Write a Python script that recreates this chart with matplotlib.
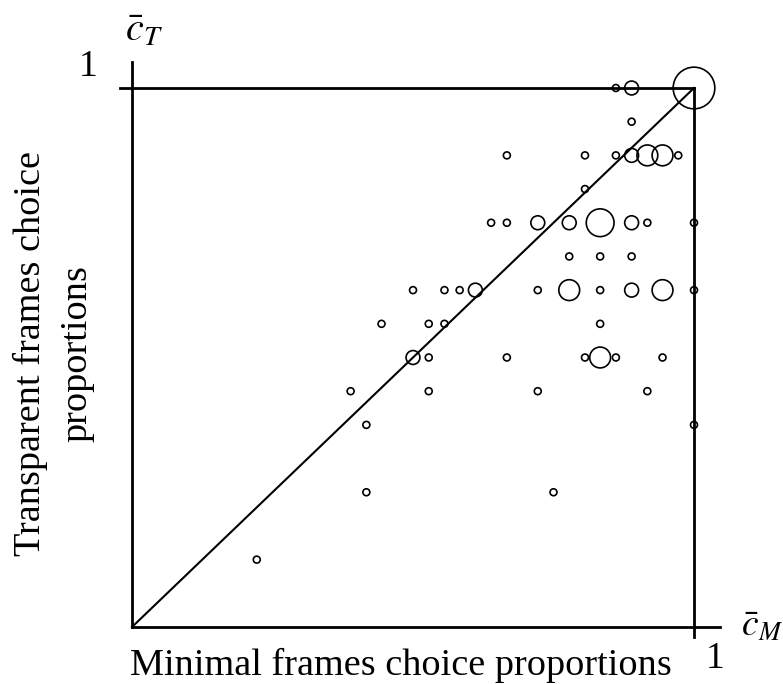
#!/usr/bin/env python3
"""Bubble plot: transparent vs minimal frames choice proportions."""
import matplotlib
matplotlib.use("Agg")
import matplotlib.pyplot as plt

# choice proportions (minimal = x, transparent = y) and number of subjects
c_min = [0.861, 0.889, 1.000,
         0.889,
         0.667, 0.806, 0.861, 0.889, 0.917, 0.944, 0.972,
         0.806,
         0.639, 0.667, 0.722, 0.778, 0.833, 0.889, 0.917, 1.000,
         0.778, 0.833, 0.889,
         0.500, 0.556, 0.583, 0.611, 0.722, 0.778, 0.833, 0.889, 0.944, 1.000,
         0.444, 0.528, 0.556, 0.833,
         0.500, 0.528, 0.667, 0.806, 0.833, 0.861, 0.944,
         0.389, 0.528, 0.722, 0.917,
         0.417, 1.000,
         0.417, 0.750,
         0.222]
c_tr = [1.0, 1.0, 1.0,
        0.9375,
        0.875, 0.875, 0.875, 0.875, 0.875, 0.875, 0.875,
        0.8125,
        0.75, 0.75, 0.75, 0.75, 0.75, 0.75, 0.75, 0.75,
        0.6875, 0.6875, 0.6875,
        0.625, 0.625, 0.625, 0.625, 0.625, 0.625, 0.625, 0.625, 0.625, 0.625,
        0.5625, 0.5625, 0.5625, 0.5625,
        0.5, 0.5, 0.5, 0.5, 0.5, 0.5, 0.5,
        0.4375, 0.4375, 0.4375, 0.4375,
        0.375, 0.375,
        0.25, 0.25,
        0.125]
n_subj = [1, 2, 6,
          1,
          1, 1, 1, 2, 3, 3, 1,
          1,
          1, 1, 2, 2, 4, 2, 1, 1,
          1, 1, 1,
          1, 1, 1, 2, 1, 3, 1, 2, 3, 1,
          1, 1, 1, 1,
          2, 1, 1, 1, 3, 1, 1,
          1, 1, 1, 1,
          1, 1,
          1, 1,
          1]

plt.rcParams["font.family"] = ["Liberation Serif", "DejaVu Serif"]
plt.rcParams["mathtext.fontset"] = "stix"

fig = plt.figure(figsize=(7.83, 6.84), dpi=100)
ax = fig.add_axes([132 / 783, 57 / 684, 562 / 783, 539 / 684])
ax.set_xlim(0, 1)
ax.set_ylim(0, 1)
ax.axis("off")

# axes and frame lines
ax.plot([0, 1.046], [0, 0], color="black", lw=2, clip_on=False)
ax.plot([0, 0], [0, 1.048], color="black", lw=2, clip_on=False)
ax.plot([-0.021, 1], [1, 1], color="black", lw=2, clip_on=False)
ax.plot([1, 1], [1, -0.019], color="black", lw=2, clip_on=False)
ax.plot([0, 1], [0, 1], color="black", lw=1.5, clip_on=False)

sizes = [(5.0 * n) ** 2 for n in n_subj]
ax.scatter(c_min, c_tr, s=sizes, facecolors="none", edgecolors="black",
           linewidths=1.2, clip_on=False, zorder=3)

ax.text(-0.078, 1.039, "1", fontsize=27, ha="center", va="center")
ax.text(1.037, -0.058, "1", fontsize=27, ha="center", va="center")
ax.text(-0.012, 1.105, r"$\bar{c}_T$", fontsize=29, ha="left", va="center")
ax.text(1.083, 0.0, r"$\bar{c}_M$", fontsize=27, ha="left", va="center")
ax.text(0.479, -0.089, "Minimal frames choice proportions", fontsize=27.5,
        ha="center", va="baseline")
ax.text(-0.139, 0.508, "Transparent frames choice\nproportions", fontsize=27.5,
        ha="center", va="center", rotation=90, multialignment="center",
        linespacing=1.45)

fig.savefig("out.png", dpi=100)
